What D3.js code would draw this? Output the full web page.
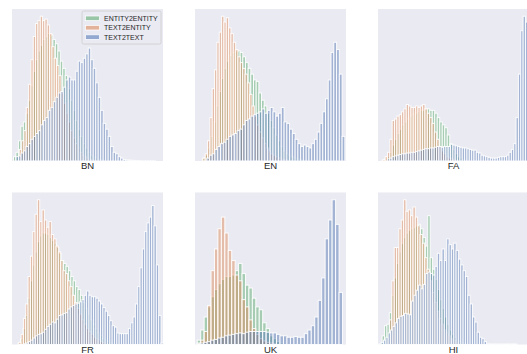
<!DOCTYPE html>
<html>
<head>
<meta charset="utf-8">
<script src="https://cdn.jsdelivr.net/npm/d3@7"></script>
<style>
  body { margin: 0; background: #ffffff; }
  svg { display: block; }
</style>
</head>
<body>
<script>
// Languages, drawn left-to-right, top-to-bottom
const languages = ["BN", "EN", "FA", "FR", "UK", "HI"];
const seriesNames = ["ENTITY2ENTITY", "TEXT2ENTITY", "TEXT2TEXT"];
const seriesColors = ["#55A868", "#DD8452", "#4C72B0"];

// First bin edge and bin width (score units, 0–100) for [ENTITY2ENTITY, TEXT2ENTITY, TEXT2TEXT]
const bnBins = [[1.0, 1.63], [4.85, 1.54], [2.64, 1.65]];
const enBins = [[5.1, 1.77], [5.2, 1.55], [7.74, 1.83]];
const faBins = [[2.7, 1.66], [3.2, 1.55], [6.2, 1.55]];
const frBins = [[4.05, 1.586], [4.5, 1.54], [7.8, 1.54]];
const ukBins = [[1.5, 2.28], [1.5, 2.28], [1.1, 2.3]];
const hiBins = [[2.74, 1.59], [6.1, 1.55], [0.55, 1.55]];

// Relative density per bin (tallest bar of each language = 100)
const bnE2E = [3,6,14,24,27,33,42,52,62,70,76,80,84,86,88,87,84,81,76,69,64,59,50,42,35,28,22,17,12,9,6,4,3,2,1,1,0.5];
const bnT2E = [8,14,21,37,53,70,86,95,97,100,97,98,94,88,79,71,66,59,47,40,33,27,21,16,12,9,6,4,3,2,1,1,0.5];
const bnT2T = [3,3.5,5.5,7,10,12,15,17,19,21,25,28,30,35,37,41,44,47,48,51,56,58,56,56,62,69,68,71,74,78,70,64,54,44,35,26,22,17,10,6,5,3,2,1,0.8,0.6,0.5,0.4,0.3,0.3,0.2,0.2,0.2,0.2,0.2,0.2];

const enE2E = [2,4,9,17,27,38,48,57,64,69,73,75,76,76,75,72,68,64,60,56,55,47,42,38,33,28,23,18,14,10,7,5,4,3,2,1.5,1,0.5];
const enT2E = [2,5,14,30,50,63,82,89,100,96,99,92,88,82,77,72,68,64,60,54,46,38,31,25,20,16,12,9,7,5,4,3,2,1.5,1,1,0.5];
const enT2T = [2,4,5,8,10,12,13,15,17,18,19,21,22,25,28,29,31,32,33,34,36,33,35,37,34,31,33,37,27,26,22,19,15,12,10,11,10,9,12,15,20,26,34,43,56,75,82,77,60,17];

const faE2E = [0.5,1.5,3,6,11,15,19,22,25,27,29,31,32,33,34,35,35,36,36,35,35,33,30,27,25,23,18,12,8,5,3,2,1,0.5];
const faT2E = [1,3,6,15,28,29,31,32,34,36,39,38,37,37,38,37,38,39,36,33,30,26,20,15,10,7,5,3,2,1.5,1,0.5];
const faT2T = [1.5,2,3,3.5,4,4.5,5,5,5.5,5.5,6,6,6.5,7,7.5,8,8.5,8.5,9,9,9.5,10,10,9.5,10,10,10,11.5,11,10.5,10,9.5,9,9,8.5,8,7.5,7.5,6,5.5,4,3.5,3,2.5,2,2,2,2.5,3,3,3,4,6,8,12,30,60,90,100,96];

const frE2E = [1,4,11,20,32,44,55,64,71,75,77,77,76,74,72,70,67,63,58,56,54,51,47,44,40,38,34,29,25,21,17,14,11,8,6,4,3,2,1,0.5];
const frT2E = [1.5,7,18,28,47,61,78,90,100,85,93,86,81,85,76,73,68,64,58,51,49,44,40,34,29,25,21,17,14,11,9,7,5,4,3,2,1.5,1,0.5];
const frT2T = [0.5,1,2,3,4.5,6,7,7.5,8.5,10.5,12.5,14,15.5,15,17.5,20,20.5,21.5,22,24.5,26,27,28,28.5,29.5,31,34,37,34,33,33,32,30,28,25.5,23,20,16.5,13,12,8,7.5,7.5,7.5,7.5,11,15,19,28,40,53,66,78,84,88,96,82,55,20,1];

const ukE2E = [3,10,19,26,33,38,42,45,47,47,48,51,56,49,41,39,32,26,24,15,11,6,4,2,1];
const ukT2E = [1,3,9,27,51,66,80,88,77,65,58,48,44,31,26,17,11,7,4,2.5,1.5,1,0.5];
const ukT2T = [0.5,1,1.5,2,3,3.5,4.5,5,6,6.5,7,7.5,8,7.5,8.5,9,9,9,9,9,8.5,8,8,7,6,6,5,5,5.5,5,5,7.5,10,13,19,30.5,46,73,86,100,83,36];

const hiE2E = [6,13,14,22,34,46,56,64,70,74,77,79,80,81,82,83,80,74,68,89,60,52,45,38,31,25,19,14,10,7,5,3,2,1,0.5];
const hiT2E = [4,17,44,67,67,80,86,100,92,93,89,95,88,82,76,70,60,52,44,36,29,23,18,14,10,8,6,4,3,2,1,0.5];
const hiT2T = [0.5,1.5,3,5,8,10,12.5,15,18,19.5,20,21.5,21,20.5,30,34,37.5,41,38.5,41.5,49,50,49,48,54,63,58,66,58,73,69,66,70,65,59,55,51,47,34,28,19,15.5,8.5,5,4,2,0.5,0.3,0.3,0.3,0.3,0.3,0.3,0.3,0.3,0.3,0.3,0.3,0.3];

const panels = [
  { name: "BN", bins: bnBins, counts: [bnE2E, bnT2E, bnT2T] },
  { name: "EN", bins: enBins, counts: [enE2E, enT2E, enT2T] },
  { name: "FA", bins: faBins, counts: [faE2E, faT2E, faT2T] },
  { name: "FR", bins: frBins, counts: [frE2E, frT2E, frT2T] },
  { name: "UK", bins: ukBins, counts: [ukE2E, ukT2E, ukT2T] },
  { name: "HI", bins: hiBins, counts: [hiE2E, hiT2E, hiT2T] }
];

const W = 527, H = 354;
const colX = [12, 195, 378];
const rowY = [9, 192.5];
const pw = 151, ph = 152;
const barOpacity = 0.45;
const font = "'Liberation Sans', Arial, 'DejaVu Sans', sans-serif";

const svg = d3.select("body").append("svg")
  .attr("width", W).attr("height", H);

const x = d3.scaleLinear().domain([0, 100]).range([0, pw]);
const y = d3.scaleLinear().domain([0, 105]).range([ph, 0]);

panels.forEach((p, pi) => {
  const g = svg.append("g")
    .attr("transform", `translate(${colX[pi % 3]},${rowY[Math.floor(pi / 3)]})`);

  g.append("rect")
    .attr("width", pw).attr("height", ph)
    .attr("fill", "#EAEAF2");

  p.counts.forEach((vals, si) => {
    const [start, width] = p.bins[si];
    const bars = vals.map((v, i) => ({ x0: start + i * width, x1: start + (i + 1) * width, v }));
    g.append("g")
      .selectAll("rect")
      .data(bars)
      .join("rect")
      .attr("x", d => x(d.x0))
      .attr("width", d => x(d.x1) - x(d.x0))
      .attr("y", d => y(d.v))
      .attr("height", d => y(0) - y(d.v))
      .attr("fill", seriesColors[si])
      .attr("fill-opacity", barOpacity)
      .attr("stroke", "#ffffff")
      .attr("stroke-opacity", 0.9)
      .attr("stroke-width", 1);
  });

  g.append("text")
    .attr("x", pw / 2)
    .attr("y", ph + 8.3)
    .attr("text-anchor", "middle")
    .attr("font-family", font)
    .attr("font-size", 9.5)
    .attr("fill", "#262626")
    .text(p.name);

  if (pi === 0) {
    const lg = g.append("g").attr("transform", "translate(70,2)");
    lg.append("rect")
      .attr("width", 79).attr("height", 33)
      .attr("rx", 1.5)
      .attr("fill", "#EAEAF2").attr("fill-opacity", 0.8)
      .attr("stroke", "#cccccc").attr("stroke-width", 0.8);
    seriesNames.forEach((s, si) => {
      const cy = 7.3 + si * 9.4;
      lg.append("rect")
        .attr("x", 3.5).attr("y", cy - 2.3)
        .attr("width", 14).attr("height", 4.6)
        .attr("fill", seriesColors[si]).attr("fill-opacity", barOpacity + 0.1)
        .attr("stroke", "#ffffff").attr("stroke-opacity", 0.9).attr("stroke-width", 0.8);
      lg.append("text")
        .attr("x", 22).attr("y", cy + 2.5)
        .attr("font-family", font)
        .attr("font-size", 7)
        .attr("fill", "#262626")
        .text(s);
    });
  }
});
</script>
</body>
</html>
